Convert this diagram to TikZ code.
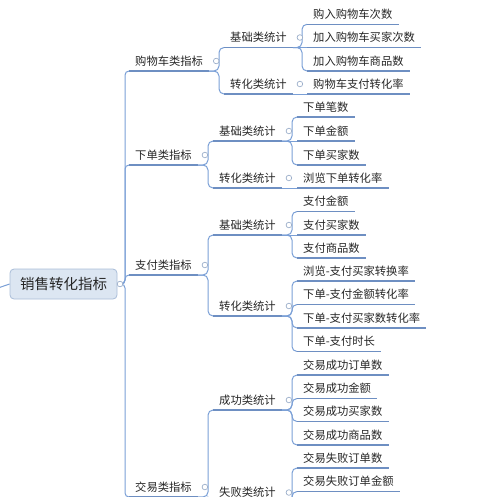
\documentclass[tikz,border=0pt]{standalone}
\usepackage{fontspec}
\newfontfamily\cjk{Noto Sans CJK SC}
\usetikzlibrary{calc}
\definecolor{lnc}{HTML}{7A9FD6}
\definecolor{ulc}{HTML}{6E8FC2}
\definecolor{togc}{HTML}{9DB0CB}
\definecolor{txt}{HTML}{262626}
\definecolor{rootfill}{HTML}{DCE6F2}
\definecolor{rootdraw}{HTML}{A9BDD8}
\tikzset{
  lbl/.style={font=\cjk\fontsize{11.3}{13}\selectfont, text=txt, inner xsep=6pt, inner ysep=5.7pt, text height=8pt, text depth=0pt, anchor=south west},
  ulline/.style={draw=ulc, line width=1.3pt},
  conn/.style={draw=lnc, line width=1pt, rounded corners=5pt},
  rconn/.style={draw=lnc, line width=1pt, rounded corners=4pt},
  tog/.style={circle, draw=togc, fill=white, line width=0.7pt, minimum size=5.6pt, inner sep=0pt},
  rootbox/.style={rounded corners=4pt, draw=rootdraw, fill=rootfill, line width=0.8pt, minimum width=107pt, minimum height=30pt, inner sep=0pt, font=\cjk\fontsize{14.5}{16}\selectfont, text=txt}
}
\newcommand\mmleaf[4]{\node[lbl] (#1) at (#2,#3) {#4}; \draw[ulline] (#1.south west) -- (#1.south east);}
\newcommand\mmtog[2]{\node[tog] (#1) at ($(#2.south east)+(7,-10)$) {};}
\newcommand\mmlink[2]{\draw[conn] (#1.south east) -| ([xshift=-5pt]#2.south west) -- (#2.south west);}
\newcommand\mmstraight[2]{\draw[conn] (#1.south east) -- (#2.south west);}
\begin{document}
\begin{tikzpicture}[x=1pt,y=-1pt]
\useasboundingbox (0,0) rectangle (500,496);
\clip (0,0) rectangle (500,496);
% root
\node[rootbox] (root) at (63.5,284) {销售转化指标};
\coordinate (offl) at (-2,288);
\draw[draw=lnc, line width=1pt] (offl) -- (root.west);
% level 1
\mmleaf{a}{129}{71}{购物车类指标}
\mmleaf{b}{129}{165}{下单类指标}
\mmleaf{c}{129}{275}{支付类指标}
\mmleaf{d}{129}{497}{交易类指标}
% level 2
\mmleaf{a1}{224}{47.5}{基础类统计}
\mmleaf{a2}{224}{94}{转化类统计}
\mmleaf{b1}{213}{141}{基础类统计}
\mmleaf{b2}{213}{188}{转化类统计}
\mmleaf{c1}{213}{235}{基础类统计}
\mmleaf{c2}{213}{316}{转化类统计}
\mmleaf{d1}{213}{410}{成功类统计}
\mmleaf{d2}{213}{502.5}{失败类统计}
% level 3
\mmleaf{a11}{307}{24.3}{购入购物车次数}
\mmleaf{a12}{307}{47.5}{加入购物车买家次数}
\mmleaf{a13}{307}{71}{加入购物车商品数}
\mmleaf{a21}{307}{94}{购物车支付转化率}
\mmleaf{b11}{297}{117}{下单笔数}
\mmleaf{b12}{297}{141}{下单金额}
\mmleaf{b13}{297}{165}{下单买家数}
\mmleaf{b21}{297}{188}{浏览下单转化率}
\mmleaf{c11}{297}{211.5}{支付金额}
\mmleaf{c12}{297}{235}{支付买家数}
\mmleaf{c13}{297}{258}{支付商品数}
\mmleaf{c21}{297}{281}{浏览-支付买家转换率}
\mmleaf{c22}{297}{304.5}{下单-支付金额转化率}
\mmleaf{c23}{297}{328}{下单-支付买家数转化率}
\mmleaf{c24}{297}{351.5}{下单-支付时长}
\mmleaf{d11}{297}{375}{交易成功订单数}
\mmleaf{d12}{297}{398.5}{交易成功金额}
\mmleaf{d13}{297}{421.5}{交易成功买家数}
\mmleaf{d14}{297}{445}{交易成功商品数}
\mmleaf{d21}{297}{468}{交易失败订单数}
\mmleaf{d22}{297}{491.5}{交易失败订单金额}
% root connectors
\coordinate (rootout) at (120,284);
\foreach \n in {a,b,c,d}{
  \draw[rconn] (rootout) -| ([xshift=-4pt]\n.south west) -- (\n.south west);
}
% level1 -> level2
\mmlink{a}{a1} \mmlink{a}{a2}
\mmlink{b}{b1} \mmlink{b}{b2}
\mmlink{c}{c1} \mmlink{c}{c2}
\mmlink{d}{d1} \mmlink{d}{d2}
% level2 -> level3
\mmlink{a1}{a11} \mmstraight{a1}{a12} \mmlink{a1}{a13}
\mmstraight{a2}{a21}
\mmlink{b1}{b11} \mmstraight{b1}{b12} \mmlink{b1}{b13}
\mmstraight{b2}{b21}
\mmlink{c1}{c11} \mmstraight{c1}{c12} \mmlink{c1}{c13}
\mmlink{c2}{c21} \mmlink{c2}{c22} \mmlink{c2}{c23} \mmlink{c2}{c24}
\mmlink{d1}{d11} \mmlink{d1}{d12} \mmlink{d1}{d13} \mmlink{d1}{d14}
\mmlink{d2}{d21} \mmlink{d2}{d22}
% toggles
\node[tog] (roottog) at (rootout) {};
\mmtog{ta}{a} \mmtog{tb}{b} \mmtog{tc}{c} \mmtog{td}{d}
\mmtog{ta1}{a1} \mmtog{ta2}{a2} \mmtog{tb1}{b1} \mmtog{tb2}{b2}
\mmtog{tc1}{c1} \mmtog{tc2}{c2} \mmtog{td1}{d1} \mmtog{td2}{d2}
\end{tikzpicture}
\end{document}
